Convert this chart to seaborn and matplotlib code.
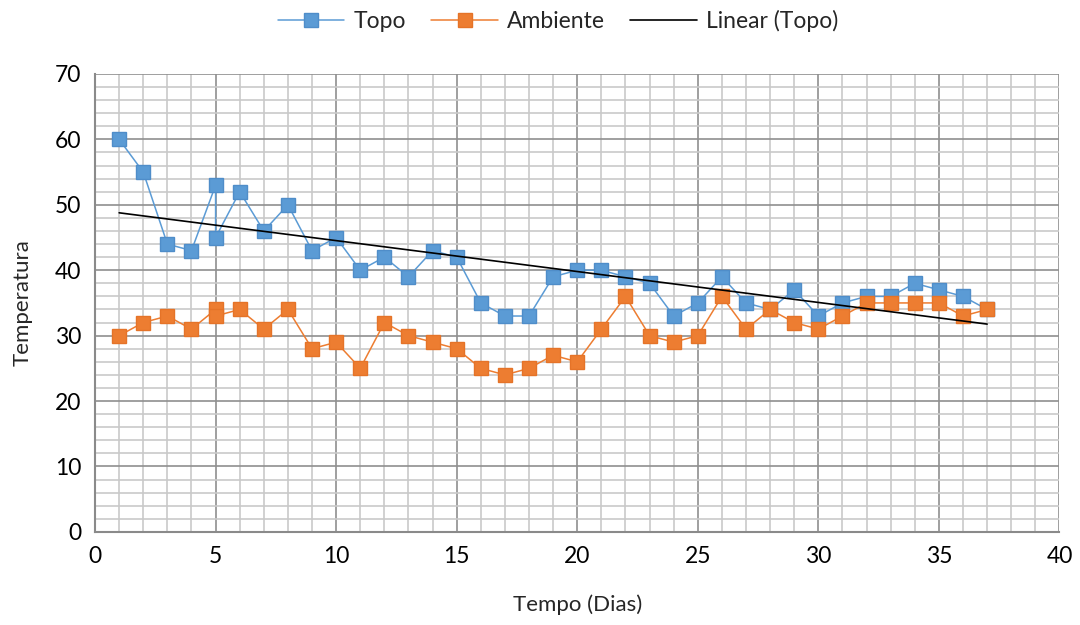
import numpy as np
import pandas as pd
import matplotlib
matplotlib.use("Agg")
import matplotlib.pyplot as plt
from matplotlib.ticker import MultipleLocator
import seaborn as sns

# Days (day 5 was measured twice)
dias = [1, 2, 3, 4, 5, 5, 6, 7, 8, 9, 10, 11, 12, 13, 14, 15, 16, 17, 18, 19,
        20, 21, 22, 23, 24, 25, 26, 27, 28, 29, 30, 31, 32, 33, 34, 35, 36, 37]
topo = [60, 55, 44, 43, 53, 45, 52, 46, 50, 43, 45, 40, 42, 39, 43, 42, 35, 33, 33, 39,
        40, 40, 39, 38, 33, 35, 39, 35, 34, 37, 33, 35, 36, 36, 38, 37, 36, 34]
ambiente = [30, 32, 33, 31, 34, 33, 34, 31, 34, 28, 29, 25, 32, 30, 29, 28, 25, 24, 25, 27,
            26, 31, 36, 30, 29, 30, 36, 31, 34, 32, 31, 33, 35, 35, 35, 35, 33, 34]

sns.set_style("white")
plt.rcParams["font.family"] = ["Lato", "DejaVu Sans"]

df = pd.DataFrame({"dia": dias, "Topo": topo, "Ambiente": ambiente})

fig = plt.figure(figsize=(10.8, 6.25), dpi=100)
ax = fig.add_axes([0.088, 0.149, 0.893, 0.7326])

azul = "#5B9BD5"
laranja = "#ED7D31"

sns.lineplot(data=df, x="dia", y="Topo", ax=ax, sort=False, estimator=None,
             color=azul, lw=1.1, marker="s", markersize=10.5,
             markerfacecolor=azul, markeredgecolor="#4F8DC9", markeredgewidth=1,
             label="Topo", zorder=3)
sns.lineplot(data=df, x="dia", y="Ambiente", ax=ax, sort=False, estimator=None,
             color=laranja, lw=1.1, marker="s", markersize=10.5,
             markerfacecolor=laranja, markeredgecolor="#E57328", markeredgewidth=1,
             label="Ambiente", zorder=3)

# Linear trend of the top temperature
coef = np.polyfit(df["dia"], df["Topo"], 1)
xt = np.array([min(dias), max(dias)])
sns.lineplot(x=xt, y=np.polyval(coef, xt), ax=ax, color="black", lw=1.2,
             label="Linear (Topo)", zorder=4)

ax.set_xlim(0, 40)
ax.set_ylim(0, 70)
ax.xaxis.set_major_locator(MultipleLocator(5))
ax.xaxis.set_minor_locator(MultipleLocator(1))
ax.yaxis.set_major_locator(MultipleLocator(10))
ax.yaxis.set_minor_locator(MultipleLocator(2))
ax.grid(which="minor", color="#c9c9c9", lw=1.2, zorder=0)
ax.grid(which="major", color="#8f8f8f", lw=1.2, zorder=0)
ax.set_axisbelow(True)

for s in ["top", "right"]:
    ax.spines[s].set_visible(False)
for s in ["left", "bottom"]:
    ax.spines[s].set_color("#8a8a8a")
    ax.spines[s].set_linewidth(1.5)

ax.tick_params(which="major", direction="out", length=6, color="#8a8a8a",
               labelsize=16.5, labelcolor="black", pad=4)
ax.tick_params(which="minor", length=0)
ax.set_xlabel("Tempo (Dias)", fontsize=16, labelpad=20)
ax.set_ylabel("Temperatura", fontsize=16, labelpad=16)

ax.legend(loc="upper center", bbox_to_anchor=(0.48, 1.185), ncol=3, frameon=False,
          fontsize=16.5, handlelength=2.9, columnspacing=1.1, handletextpad=0.4)

fig.savefig("out.png", dpi=100)
